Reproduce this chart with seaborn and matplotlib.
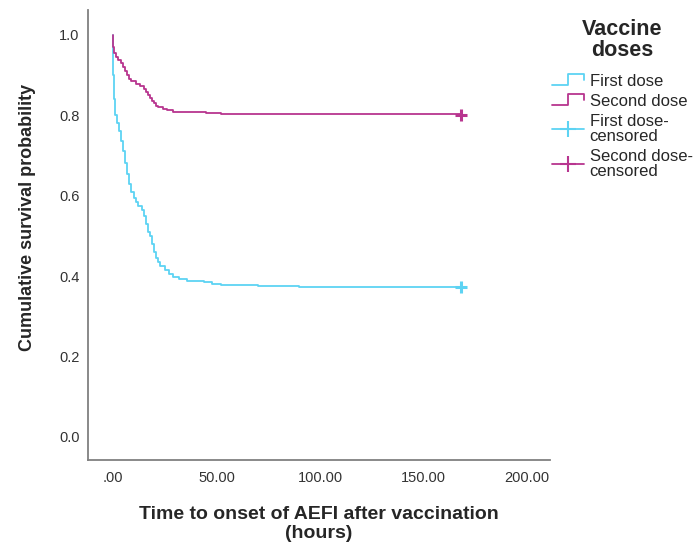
import matplotlib
matplotlib.use("Agg")
import matplotlib.pyplot as plt
import seaborn as sns
import pandas as pd
from matplotlib.lines import Line2D
from matplotlib.legend_handler import HandlerBase

# Kaplan-Meier estimates (hours, survival)
first_time = [0, 0.3, 0.6, 1, 2, 3, 4, 5, 6, 7, 8, 9, 10, 11, 12, 14, 15, 16, 17, 18,
              19, 20, 21, 22, 23, 25, 27, 29, 32, 36, 44, 48, 52, 70, 90, 168]
first_surv = [1.0, 0.90, 0.84, 0.80, 0.78, 0.76, 0.735, 0.71, 0.68, 0.655, 0.63, 0.61,
              0.595, 0.585, 0.575, 0.565, 0.55, 0.53, 0.51, 0.50, 0.48, 0.46, 0.445,
              0.435, 0.425, 0.415, 0.405, 0.398, 0.392, 0.388, 0.385, 0.381, 0.378,
              0.376, 0.374, 0.374]
second_time = [0, 0.3, 0.7, 1.5, 2.5, 4, 5, 6, 7, 8, 9, 11, 13, 15, 16, 17, 18, 19, 20,
               21, 22, 24, 26, 29, 33, 45, 52, 75, 168]
second_surv = [1.0, 0.97, 0.955, 0.945, 0.938, 0.93, 0.92, 0.91, 0.90, 0.89, 0.884,
               0.878, 0.872, 0.865, 0.858, 0.85, 0.843, 0.836, 0.83, 0.824, 0.82, 0.815,
               0.812, 0.809, 0.807, 0.806, 0.804, 0.802, 0.80]
censor_time = [168, 168]
censor_surv = [0.374, 0.80]

labels = ["First dose", "Second dose", "First dose-\ncensored", "Second dose-\ncensored"]
x_ticks = [0, 50, 100, 150, 200]
x_ticklabels = [".00", "50.00", "100.00", "150.00", "200.00"]
y_ticks = [0.0, 0.2, 0.4, 0.6, 0.8, 1.0]

cyan = "#5DD3F3"
magenta = "#B8358F"

sns.set_style("white")
plt.rcParams["font.family"] = ["Liberation Sans", "DejaVu Sans"]


class HandlerStep(HandlerBase):
    def create_artists(self, legend, orig_handle, xdescent, ydescent, width, height,
                       fontsize, trans):
        x0, x1 = -xdescent, -xdescent + width
        xm = x0 + 0.5 * width
        lo, hi = -ydescent + 0.05 * height, -ydescent + 0.95 * height
        line = Line2D([x0, xm, xm, x1, x1], [lo, lo, hi, hi, lo + 0.45 * height],
                      color=orig_handle.get_color(), lw=1.3, transform=trans)
        return [line]


fig = plt.figure(figsize=(6.98, 5.43), dpi=100)
ax = fig.add_axes([0.126, 0.153, 0.662, 0.829])

df1 = pd.DataFrame({"t": first_time, "s": first_surv})
df2 = pd.DataFrame({"t": second_time, "s": second_surv})
sns.lineplot(data=df1, x="t", y="s", ax=ax, color=cyan, lw=1.3,
             drawstyle="steps-post", estimator=None)
sns.lineplot(data=df2, x="t", y="s", ax=ax, color=magenta, lw=1.3,
             drawstyle="steps-post", estimator=None)
sns.scatterplot(x=censor_time[:1], y=censor_surv[:1], ax=ax, marker="+", s=75,
                color=cyan, linewidth=2.2, zorder=3)
sns.scatterplot(x=censor_time[1:], y=censor_surv[1:], ax=ax, marker="+", s=75,
                color=magenta, linewidth=2.2, zorder=3)

ax.set_xlim(-12, 211)
ax.set_ylim(-0.057, 1.062)
ax.set_xticks(x_ticks)
ax.set_xticklabels(x_ticklabels)
ax.set_yticks(y_ticks)
ax.set_yticklabels([f"{v:.1f}" for v in y_ticks])
ax.tick_params(axis="both", length=0, labelsize=10.5, labelcolor="#333333")
ax.tick_params(axis="y", pad=6)
ax.tick_params(axis="x", pad=8)

sns.despine(ax=ax)
for side in ["left", "bottom"]:
    ax.spines[side].set_color("#808080")
    ax.spines[side].set_linewidth(1.3)

ax.set_xlabel("Time to onset of AEFI after vaccination\n(hours)", fontsize=14,
              fontweight="bold", labelpad=15, linespacing=1.2)
ax.set_ylabel("Cumulative survival probability", fontsize=13, fontweight="bold")
ax.yaxis.set_label_coords(-0.113, 0.538)

handles = [
    Line2D([], [], color=cyan),
    Line2D([], [], color=magenta),
    Line2D([], [], color=cyan, lw=1.3, marker="+", markersize=12, mew=1.5),
    Line2D([], [], color=magenta, lw=1.3, marker="+", markersize=12, mew=1.5),
]
leg = fig.legend(handles, labels, loc="upper left", bbox_to_anchor=(0.791, 0.965),
                 frameon=False, fontsize=12, title="Vaccine\ndoses",
                 title_fontproperties={"weight": "bold", "size": 15.5},
                 handlelength=1.9, handletextpad=0.35, labelspacing=0.3,
                 borderpad=0, borderaxespad=0,
                 handler_map={handles[0]: HandlerStep(), handles[1]: HandlerStep()})
leg.get_title().set_multialignment("center")
leg.get_title().set_linespacing(1.0)
for t in leg.get_texts():
    t.set_linespacing(1.0)
leg._legend_box.sep = 9

fig.savefig("out.png", dpi=100)
